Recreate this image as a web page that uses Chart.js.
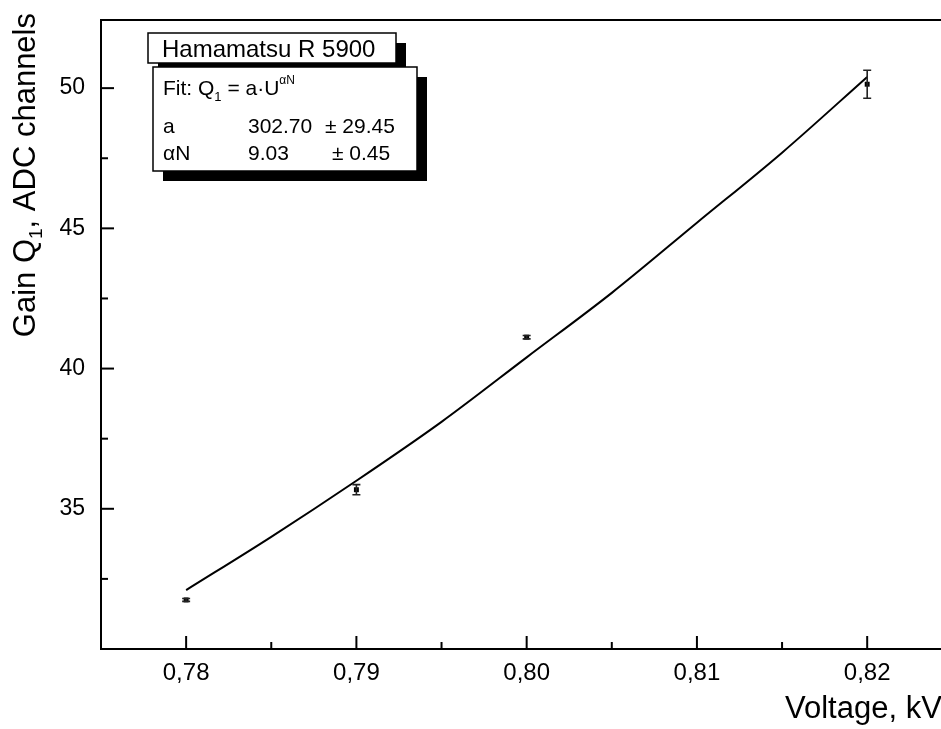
<!DOCTYPE html>
<html>
<head>
<meta charset="utf-8">
<script src="https://cdn.jsdelivr.net/npm/chart.js@4.4.0/dist/chart.umd.min.js"></script>
<style>
  html, body { margin: 0; padding: 0; overflow: hidden; background: #fff; }
  #wrap { width: 941px; height: 729px; }
</style>
</head>
<body>
<div id="wrap"><canvas id="gainChart" width="941" height="729"></canvas></div>
<script>
const voltage = [0.78, 0.79, 0.80, 0.82];
const gain = [31.75, 35.68, 41.12, 50.14];
const gainErr = [0.05, 0.18, 0.06, 0.5];

// fit curve Q1 = a*U^aN
const fitVoltage = [0.78, 0.785, 0.79, 0.795, 0.80, 0.805, 0.81, 0.815, 0.82];
const fitGain = [32.1, 34.0, 36.0, 38.1, 40.4, 42.7, 45.2, 47.7, 50.4];

const xMajorTicks = [0.78, 0.79, 0.80, 0.81, 0.82];
const xMinorTicks = [0.775, 0.785, 0.795, 0.805, 0.815];
const yMajorTicks = [35, 40, 45, 50];
const yMinorTicks = [30, 32.5, 37.5, 42.5, 47.5];

const fontName = "'Liberation Sans', Arial, sans-serif";

function buildTicks(scale, major, minor) {
    const all = major.map(v => ({ value: v, major: true }))
        .concat(minor.map(v => ({ value: v, major: false })))
        .filter(t => t.value >= scale.min - 1e-9 && t.value <= scale.max + 1e-9);
    all.sort((a, b) => a.value - b.value);
    scale.ticks = all;
}

function noEdgePadding(s) {
    s.paddingLeft = 0;
    s.paddingRight = 0;
    s.paddingTop = 0;
    s.paddingBottom = 0;
}

// ticks pointing inside, frame, error bars, titles, fit box
const decorations = {
    id: 'decorations',
    afterDraw(chart) {
        const ctx = chart.ctx;
        const area = chart.chartArea;
        const xs = chart.scales.x, ys = chart.scales.y;

        ctx.save();
        ctx.strokeStyle = '#000';
        ctx.lineWidth = 2;
        ctx.beginPath();
        ctx.moveTo(chart.width, area.top);
        ctx.lineTo(area.left, area.top);
        ctx.lineTo(area.left, area.bottom);
        ctx.lineTo(chart.width, area.bottom);
        ctx.stroke();

        xs.ticks.forEach(t => {
            const px = xs.getPixelForValue(t.value);
            const len = t.major ? 13 : 7;
            ctx.beginPath();
            ctx.moveTo(px, area.bottom);
            ctx.lineTo(px, area.bottom - len);
            ctx.stroke();
        });
        ys.ticks.forEach(t => {
            const py = ys.getPixelForValue(t.value);
            const len = t.major ? 13 : 7;
            ctx.beginPath();
            ctx.moveTo(area.left, py);
            ctx.lineTo(area.left + len, py);
            ctx.stroke();
        });

        // error bars
        ctx.strokeStyle = '#222';
        ctx.lineWidth = 1.6;
        voltage.forEach((v, i) => {
            const px = xs.getPixelForValue(v);
            const top = ys.getPixelForValue(gain[i] + gainErr[i]);
            const bot = ys.getPixelForValue(gain[i] - gainErr[i]);
            ctx.beginPath();
            ctx.moveTo(px, top);
            ctx.lineTo(px, bot);
            ctx.moveTo(px - 4, top);
            ctx.lineTo(px + 4, top);
            ctx.moveTo(px - 4, bot);
            ctx.lineTo(px + 4, bot);
            ctx.stroke();
        });

        ctx.fillStyle = '#000';
        ctx.textBaseline = 'alphabetic';

        // y title with subscript, rotated
        ctx.save();
        ctx.translate(35, 13);
        ctx.rotate(-Math.PI / 2);
        const yParts = [['Gain Q', 31, 0], ['1', 19, 7], [', ADC channels', 31, 0]];
        let total = 0;
        yParts.forEach(p => { ctx.font = p[1] + 'px ' + fontName; total += ctx.measureText(p[0]).width; });
        let cx = -total;
        yParts.forEach(p => {
            ctx.font = p[1] + 'px ' + fontName;
            ctx.fillText(p[0], cx, p[2]);
            cx += ctx.measureText(p[0]).width;
        });
        ctx.restore();

        // x title
        ctx.font = '31px ' + fontName;
        ctx.textAlign = 'left';
        ctx.fillText('Voltage, kV', 785, 718);

        // title box with shadow
        ctx.fillStyle = '#000';
        ctx.fillRect(158, 43, 248, 30);
        ctx.fillStyle = '#fff';
        ctx.fillRect(148, 33, 248, 30);
        ctx.strokeStyle = '#000';
        ctx.lineWidth = 1.5;
        ctx.strokeRect(148, 33, 248, 30);
        ctx.fillStyle = '#000';
        ctx.font = '24px ' + fontName;
        ctx.fillText('Hamamatsu R 5900', 162, 57);

        // fit box with shadow
        ctx.fillRect(163, 77, 264, 104);
        ctx.fillStyle = '#fff';
        ctx.fillRect(153, 67, 264, 104);
        ctx.strokeRect(153, 67, 264, 104);
        ctx.fillStyle = '#000';
        let fx = 163;
        const fitParts = [['Fit: Q', 21, 0], ['1', 13, 6], [' = a\u00B7U', 21, 0], ['\u03B1N', 12, -11]];
        fitParts.forEach(p => {
            ctx.font = p[1] + 'px ' + fontName;
            ctx.fillText(p[0], fx, 95 + p[2]);
            fx += ctx.measureText(p[0]).width;
        });
        ctx.font = '21px ' + fontName;
        ctx.fillText('a', 163, 133);
        ctx.fillText('302.70', 248, 133);
        ctx.fillText('\u00B1 29.45', 325, 133);
        ctx.fillText('\u03B1N', 163, 160);
        ctx.fillText('9.03', 248, 160);
        ctx.fillText('\u00B1 0.45', 332, 160);
        ctx.restore();
    }
};

new Chart(document.getElementById('gainChart'), {
    type: 'scatter',
    data: {
        datasets: [
            {
                label: 'fit',
                data: fitVoltage.map((v, i) => ({ x: v, y: fitGain[i] })),
                showLine: true,
                borderColor: '#000',
                borderWidth: 2,
                pointRadius: 0,
                cubicInterpolationMode: 'monotone',
                fill: false
            },
            {
                label: 'gain',
                data: voltage.map((v, i) => ({ x: v, y: gain[i] })),
                pointStyle: 'rect',
                pointRadius: 3.5,
                backgroundColor: '#000',
                borderColor: '#000',
                borderWidth: 0
            }
        ]
    },
    options: {
        responsive: false,
        animation: false,
        layout: { padding: { left: 0, top: 20, right: 0, bottom: 0 } },
        plugins: { legend: { display: false }, tooltip: { enabled: false } },
        scales: {
            x: {
                type: 'linear',
                min: 0.775,
                max: 0.8241,
                border: { display: false },
                grid: { display: false, drawTicks: false },
                afterBuildTicks: s => buildTicks(s, xMajorTicks, xMinorTicks),
                afterFit: s => { s.height = 80; noEdgePadding(s); },
                ticks: {
                    autoSkip: false,
                    maxRotation: 0,
                    padding: 10,
                    color: '#000',
                    font: { family: fontName, size: 24 },
                    callback: function (value) {
                        return xMajorTicks.some(t => Math.abs(t - value) < 1e-9) ? value.toFixed(2).replace('.', ',') : '';
                    }
                }
            },
            y: {
                type: 'linear',
                min: 30,
                max: 52.43,
                border: { display: false },
                grid: { display: false, drawTicks: false },
                afterBuildTicks: s => buildTicks(s, yMajorTicks, yMinorTicks),
                afterFit: s => { s.width = 101; noEdgePadding(s); },
                ticks: {
                    autoSkip: false,
                    padding: 16,
                    color: '#000',
                    font: { family: fontName, size: 23 },
                    callback: function (value) {
                        return yMajorTicks.includes(value) ? String(value) : '';
                    }
                }
            }
        }
    },
    plugins: [decorations]
});
</script>
</body>
</html>
